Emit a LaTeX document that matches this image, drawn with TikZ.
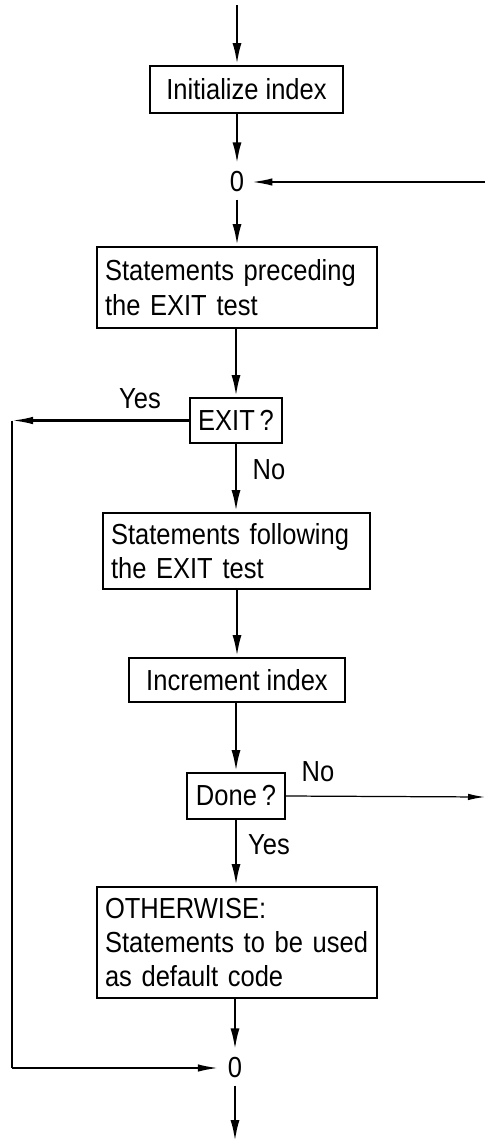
\documentclass[tikz,border=0pt]{standalone}
\usepackage{fontspec}
\setmainfont{Liberation Sans}[FakeStretch=0.88]
\usetikzlibrary{arrows.meta}

\tikzset{
    box/.style={draw, line width=1.1pt, inner xsep=0.16cm, inner ysep=0pt},
    flow/.style={line width=1.6pt, -{Latex[length=0.44cm, width=0.18cm]}},
    side/.style={line width=1.2pt, -{Latex[length=0.42cm, width=0.15cm]}},
    thinflow/.style={line width=0.7pt, -{Latex[length=0.34cm, width=0.13cm]}},
    lbl/.style={inner sep=0pt}
}

\begin{document}
\begin{tikzpicture}[every node/.style={font=\fontsize{16.5}{19.5}\selectfont}]
    \useasboundingbox (0,0) rectangle (9.7,-22.86);

    % Khởi tạo chỉ số
    \coordinate (start) at (4.74,-0.1);
    \node[box, minimum width=3.86cm, minimum height=0.94cm] (init) at (4.93,-1.79) {Initialize index};
    \node[lbl] (zeroTop) at (4.74,-3.64) {0};
    \coordinate (back) at (9.7,-3.64);

    % Các lệnh trước phép thử EXIT
    \node[box, text width=5.28cm, minimum height=1.62cm, align=left] (prec) at (4.74,-5.75)
        {Statements preceding\\the EXIT test};
    \node[box, minimum width=1.76cm, minimum height=0.9cm] (exit) at (4.72,-8.41) {EXIT\,?};
    \coordinate (yesEnd) at (0.24,-8.41);
    \node[lbl] (exitYes) at (2.8,-7.98) {Yes};
    \node[lbl] (exitNo) at (5.38,-9.4) {No};

    % Các lệnh sau phép thử EXIT
    \node[box, text width=5.02cm, minimum height=1.52cm, align=left] (foll) at (4.73,-11.02)
        {Statements following\\the EXIT test};
    \node[box, minimum width=4.32cm, minimum height=0.88cm] (incr) at (4.74,-13.6) {Increment index};
    \node[box, minimum width=1.96cm, minimum height=0.92cm] (done) at (4.72,-15.92) {Done\,?};
    \coordinate (again) at (9.7,-15.94);
    \node[lbl] (doneNo) at (6.36,-15.44) {No};
    \node[lbl] (doneYes) at (5.38,-16.9) {Yes};

    % OTHERWISE
    \node[box, text width=5.28cm, minimum height=2.22cm, align=left] (other) at (4.74,-18.85)
        {OTHERWISE:\\Statements to be used\\as default code};
    \node[lbl] (zeroBot) at (4.7,-21.36) {0};
    \coordinate (finish) at (4.7,-22.84);

    % Mũi tên
    \draw[flow] (start) -- (init.north -| start);
    \draw[flow] (init.south -| zeroTop) -- ([yshift=4pt]zeroTop.north);
    \draw[side] (back) -- ([xshift=4pt]zeroTop.east);
    \draw[flow] ([yshift=-4pt]zeroTop.south) -- (prec.north -| zeroTop);
    \draw[flow] (prec.south -| exit) -- (exit.north);
    \draw[side] (exit.west) -- (yesEnd);
    \draw[line width=1.5pt] (yesEnd) -- (yesEnd |- zeroBot);
    \draw[side] (yesEnd |- zeroBot) -- ([xshift=-5pt]zeroBot.west);
    \draw[flow] (exit.south) -- (foll.north -| exit);
    \draw[flow] (foll.south -| incr) -- (incr.north);
    \draw[flow] (incr.south -| done) -- (done.north);
    \draw[thinflow] (done.east) -- (again);
    \draw[flow] (done.south) -- (other.north -| done);
    \draw[flow] (other.south -| zeroBot) -- ([yshift=4pt]zeroBot.north);
    \draw[flow] ([yshift=-4pt]zeroBot.south) -- (finish);
\end{tikzpicture}
\end{document}
